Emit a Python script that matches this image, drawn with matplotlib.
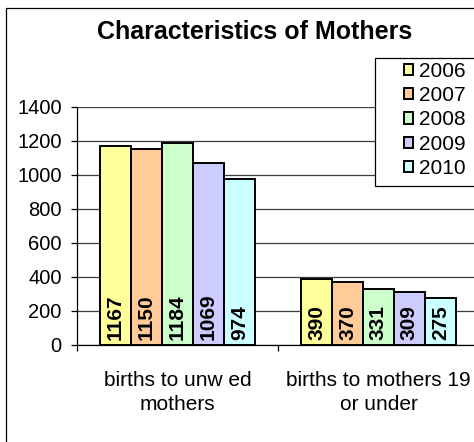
import matplotlib
matplotlib.use("Agg")
import matplotlib.pyplot as plt
from matplotlib.patches import Rectangle
import numpy as np

plt.rcParams['font.family'] = ['Liberation Sans', 'DejaVu Sans']

categories = ["births to unw ed\nmothers", "births to mothers 19\nor under"]
years = ["2006", "2007", "2008", "2009", "2010"]
values = {
    "2006": [1167, 390],
    "2007": [1150, 370],
    "2008": [1184, 331],
    "2009": [1069, 309],
    "2010": [974, 275],
}
colors = ["#FFFF99", "#FFCC99", "#CCFFCC", "#CCCCFF", "#CCFFFF"]
yticks = [0, 200, 400, 600, 800, 1000, 1200, 1400]
title = "Characteristics of Mothers"

W, H = 474, 442
fig = plt.figure(figsize=(W / 100, H / 100), dpi=100)

# outer chart border
fig.patches.append(Rectangle((5.5 / W, -0.1), 1.2, (H - 7.5) / H + 0.1,
                             transform=fig.transFigure, fill=False,
                             edgecolor="black", linewidth=0.9))

x0, x1 = 77, 479
ytop, ybot = 106.5, 345
ax = fig.add_axes([x0 / W, (H - ybot) / H, (x1 - x0) / W, (ybot - ytop) / H])
ax.set_facecolor("none")

x = np.arange(len(categories))
bw = 0.154
for i, (yr, col) in enumerate(zip(years, colors)):
    bars = ax.bar(x + (i - 2) * bw, values[yr], width=bw, color=col,
                  edgecolor="black", linewidth=1.4, label=yr, zorder=3)
    for rect, v in zip(bars, values[yr]):
        ax.annotate(str(v), (rect.get_x() + rect.get_width() / 2, 0),
                    xytext=(0, 3.5), textcoords="offset points",
                    rotation=90, ha="center", va="bottom",
                    fontsize=15, fontweight="bold", zorder=4)

ax.set_xlim(-0.5, 1.5)
ax.set_ylim(0, 1400)
ax.set_yticks(yticks)
ax.yaxis.grid(True, color="#3c3c3c", linewidth=0.9, zorder=0)
ax.set_axisbelow(True)
for s in ["top", "right"]:
    ax.spines[s].set_visible(False)
ax.spines["left"].set_linewidth(0.9)
ax.spines["bottom"].set_linewidth(0.9)
ax.tick_params(axis="y", direction="out", length=4, width=0.9, pad=7,
               labelsize=14.5)
ax.set_xticks(x)
ax.set_xticklabels(categories, fontsize=15, linespacing=1.3)
ax.tick_params(axis="x", which="major", length=0, pad=19)
ax.set_xticks([-0.5, 0.5, 1.5], minor=True)
ax.tick_params(axis="x", which="minor", direction="out", length=4, width=0.9)

fig.text(255 / W, (H - 32) / H, title, ha="center", va="center",
         fontsize=18, fontweight="bold")

# legend box
fig.patches.append(Rectangle((375 / W, (H - 186) / H), 0.5, (186 - 58) / H,
                             transform=fig.transFigure, facecolor="white",
                             edgecolor="black", linewidth=0.9, zorder=5))
leg = fig.legend(loc="upper left", bbox_to_anchor=(404 / W, (H - 62) / H),
                 frameon=False, fontsize=15, handlelength=0.45,
                 handleheight=0.45, handletextpad=0.25, labelspacing=0.25,
                 borderpad=0, borderaxespad=0)
leg.set_zorder(6)

fig.savefig("out.png", dpi=100)
